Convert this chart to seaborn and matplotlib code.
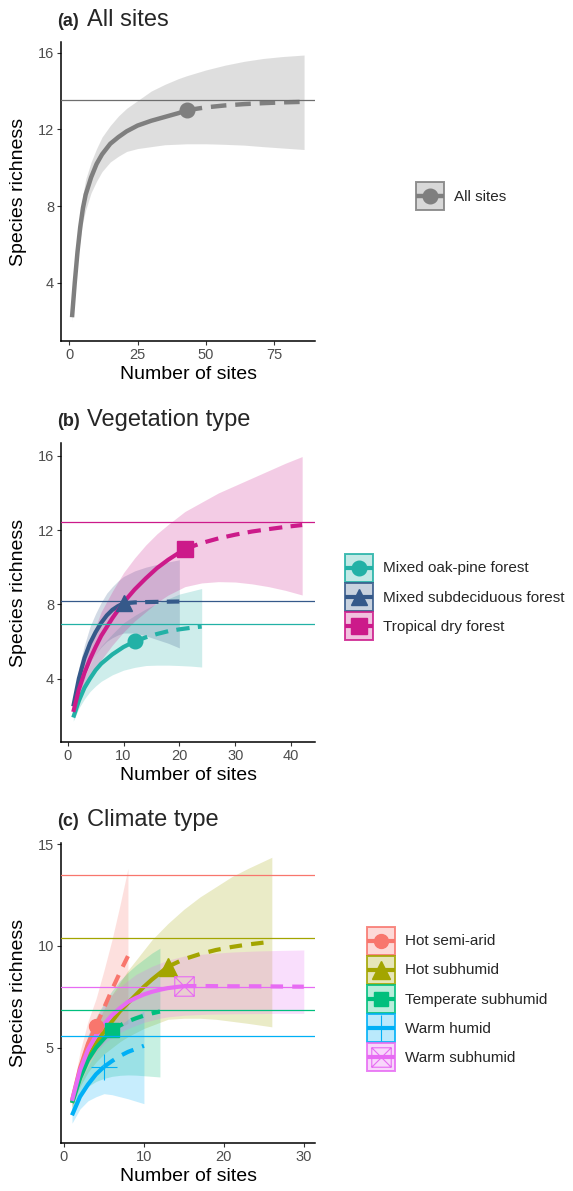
import pandas as pd
import matplotlib
matplotlib.use('Agg')
import matplotlib.pyplot as plt
import seaborn as sns
from matplotlib.path import Path
from matplotlib.patches import Patch
from matplotlib.lines import Line2D
from matplotlib.colors import to_rgba
from matplotlib.legend_handler import HandlerLine2D

# ---------------- data ----------------
# (a) all sites
all_m = [1, 2, 3, 4, 5, 6, 8, 10, 12, 15, 18, 21, 25, 30, 35, 40, 43, 50, 57, 64, 71, 78, 86]
all_qD = [2.2, 4.0, 5.6, 6.9, 7.9, 8.6, 9.5, 10.2, 10.7, 11.25, 11.6, 11.9, 12.2, 12.45, 12.65, 12.85, 13.0,
          13.15, 13.25, 13.32, 13.37, 13.41, 13.44]
all_lcl = [2.0, 3.7, 5.1, 6.3, 7.2, 7.8, 8.7, 9.3, 9.8, 10.3, 10.6, 10.85, 11.0, 11.1, 11.2, 11.23, 11.25,
           11.25, 11.22, 11.18, 11.1, 11.03, 10.95]
all_ucl = [2.4, 4.3, 6.0, 7.4, 8.6, 9.4, 10.3, 11.0, 11.6, 12.2, 12.7, 13.1, 13.5, 14.0, 14.35, 14.65, 14.8,
           15.1, 15.35, 15.55, 15.7, 15.8, 15.88]
all_nobs = 43
all_asym = 13.53

# (b) vegetation type
veg_names = ['Mixed oak-pine forest', 'Mixed subdeciduous forest', 'Tropical dry forest']
oak_m = [1, 2, 3, 4, 5, 6, 8, 10, 12, 14, 16, 18, 20, 22, 24]
oak_qD = [1.9, 2.8, 3.5, 4.0, 4.45, 4.8, 5.3, 5.7, 6.0, 6.22, 6.4, 6.55, 6.65, 6.73, 6.8]
oak_lcl = [1.7, 2.4, 2.9, 3.3, 3.6, 3.85, 4.2, 4.45, 4.6, 4.7, 4.72, 4.72, 4.7, 4.67, 4.62]
oak_ucl = [2.1, 3.2, 4.1, 4.75, 5.3, 5.75, 6.4, 7.0, 7.4, 7.75, 8.05, 8.3, 8.55, 8.7, 8.85]
sub_m = [1, 2, 3, 4, 5, 6, 7, 8, 9, 10, 12, 14, 16, 18, 20]
sub_qD = [2.5, 4.0, 5.1, 5.9, 6.5, 7.0, 7.4, 7.7, 7.9, 8.05, 8.1, 8.12, 8.13, 8.14, 8.15]
sub_lcl = [2.3, 3.4, 4.2, 4.8, 5.3, 5.7, 6.0, 6.2, 6.35, 6.45, 6.45, 6.3, 6.1, 5.9, 5.65]
sub_ucl = [2.7, 4.6, 5.8, 6.8, 7.5, 8.1, 8.6, 8.95, 9.25, 9.5, 9.8, 10.0, 10.15, 10.28, 10.4]
dry_m = [1, 2, 3, 4, 5, 6, 8, 10, 12, 14, 16, 18, 21, 24, 27, 30, 33, 36, 39, 42]
dry_qD = [2.2, 3.4, 4.3, 5.05, 5.7, 6.3, 7.25, 8.1, 8.8, 9.4, 9.95, 10.4, 10.98, 11.3, 11.55, 11.75, 11.92,
          12.05, 12.17, 12.27]
dry_lcl = [2.0, 2.9, 3.6, 4.1, 4.6, 5.0, 5.8, 6.5, 7.1, 7.6, 8.1, 8.5, 8.95, 9.15, 9.22, 9.2, 9.1, 8.95,
           8.75, 8.5]
dry_ucl = [2.4, 3.9, 5.0, 6.0, 6.8, 7.6, 8.7, 9.7, 10.5, 11.2, 11.8, 12.3, 13.0, 13.5, 14.0, 14.4, 14.8,
           15.2, 15.6, 15.96]
veg_nobs = [12, 10, 21]
veg_asym = [6.92, 8.16, 12.42]

# (c) climate type
clim_names = ['Hot semi-arid', 'Hot subhumid', 'Temperate subhumid', 'Warm humid', 'Warm subhumid']
hsa_m = [1, 2, 3, 4, 5, 6, 7, 8]
hsa_qD = [2.4, 4.0, 5.2, 6.07, 6.95, 7.85, 8.7, 9.5]
hsa_lcl = [2.1, 3.3, 4.2, 4.8, 5.3, 5.7, 6.0, 6.2]
hsa_ucl = [2.7, 4.8, 6.3, 7.4, 8.8, 10.3, 12.0, 13.8]
hsh_m = [1, 2, 3, 4, 5, 6, 7, 8, 9, 10, 11, 13, 15, 17, 19, 21, 23, 26]
hsh_qD = [2.3, 3.6, 4.5, 5.2, 5.8, 6.3, 6.8, 7.2, 7.6, 8.0, 8.35, 8.98, 9.35, 9.6, 9.8, 9.95, 10.07, 10.21]
hsh_lcl = [2.1, 3.1, 3.8, 4.3, 4.7, 5.0, 5.3, 5.55, 5.75, 5.95, 6.1, 6.4, 6.45, 6.45, 6.4, 6.3, 6.2, 6.03]
hsh_ucl = [2.5, 4.1, 5.2, 6.1, 6.9, 7.6, 8.2, 8.8, 9.3, 9.8, 10.3, 11.1, 11.8, 12.4, 12.9, 13.4, 13.8, 14.35]
tsh_m = [1, 2, 3, 4, 5, 6, 7, 8, 9, 10, 11, 12]
tsh_qD = [2.3, 3.5, 4.4, 5.0, 5.45, 5.87, 6.1, 6.3, 6.45, 6.58, 6.69, 6.78]
tsh_lcl = [2.0, 2.7, 3.1, 3.35, 3.5, 3.6, 3.65, 3.67, 3.66, 3.63, 3.6, 3.57]
tsh_ucl = [2.6, 4.3, 5.6, 6.5, 7.2, 7.8, 8.3, 8.7, 9.05, 9.35, 9.65, 9.89]
wh_m = [1, 2, 3, 4, 5, 6, 7, 8, 9, 10]
wh_qD = [1.69, 2.6, 3.2, 3.7, 4.07, 4.35, 4.6, 4.8, 4.95, 5.1]
wh_lcl = [1.3, 2.0, 2.4, 2.6, 2.75, 2.7, 2.6, 2.5, 2.38, 2.26]
wh_ucl = [2.1, 3.3, 4.1, 4.8, 5.35, 5.75, 6.1, 6.4, 6.6, 6.8]
wsh_m = [1, 2, 3, 4, 5, 6, 7, 8, 9, 10, 11, 12, 13, 15, 18, 21, 24, 27, 30]
wsh_qD = [2.4, 3.9, 4.9, 5.6, 6.15, 6.6, 6.95, 7.25, 7.45, 7.62, 7.75, 7.85, 7.93, 8.03, 8.03, 8.02, 8.02,
          8.01, 8.0]
wsh_lcl = [2.2, 3.4, 4.2, 4.8, 5.2, 5.5, 5.75, 5.95, 6.1, 6.25, 6.35, 6.45, 6.52, 6.6, 6.65, 6.67, 6.68,
           6.69, 6.69]
wsh_ucl = [2.6, 4.4, 5.6, 6.4, 7.1, 7.6, 8.0, 8.3, 8.6, 8.8, 9.0, 9.15, 9.3, 9.5, 9.62, 9.7, 9.75, 9.78, 9.8]
clim_nobs = [4, 13, 6, 5, 15]
clim_asym = [13.48, 10.38, 6.85, 5.6, 8.0]

# ---------------- styling ----------------
sns.set_style('ticks')
plt.rcParams['font.family'] = ['Liberation Sans', 'DejaVu Sans']

W, H = 573, 1191
fig = plt.figure(figsize=(W / 100, H / 100), dpi=100)


def box(left, top, right, bottom):
    return [left / W, 1 - bottom / H, (right - left) / W, (bottom - top) / H]


# square with a cross inside (ggplot shape 7)
sq_cross = Path([(-1, -1), (1, -1), (1, 1), (-1, 1), (-1, -1), (-1, -1), (1, 1), (-1, 1), (1, -1)],
                [Path.MOVETO, Path.LINETO, Path.LINETO, Path.LINETO, Path.CLOSEPOLY,
                 Path.MOVETO, Path.LINETO, Path.MOVETO, Path.LINETO])


class CenteredLine(HandlerLine2D):
    # put the legend line/marker in the middle of the key box
    def create_artists(self, legend, orig_handle, xdescent, ydescent, width, height, fontsize, trans):
        arts = super().create_artists(legend, orig_handle, xdescent, ydescent, width, height,
                                      fontsize, trans)
        for a in arts:
            a.set_ydata([height / 2 - ydescent] * len(a.get_ydata()))
        return arts


def make_df(name, m, qD, lcl, ucl, nobs):
    df = pd.DataFrame({'m': m, 'qD': qD, 'lcl': lcl, 'ucl': ucl})
    df['group'] = name
    df['nobs'] = nobs
    return df


def draw_panel(ax, dfs, styles, asyms, dash, lw=3.0, ribbon_alpha=0.22):
    handles = []
    for df, st, asym in zip(dfs, styles, asyms):
        c = st['color']
        nobs = df['nobs'].iloc[0]
        ax.fill_between(df['m'], df['lcl'], df['ucl'], color=c, alpha=ribbon_alpha, lw=0, zorder=1)
        interp = df[df['m'] <= nobs]
        extrap = df[df['m'] >= nobs]
        sns.lineplot(data=interp, x='m', y='qD', color=c, lw=lw, estimator=None, sort=False,
                     solid_capstyle='butt', ax=ax, zorder=3)
        sns.lineplot(data=extrap, x='m', y='qD', color=c, lw=lw, estimator=None, sort=False,
                     linestyle=(0, dash), dash_capstyle='butt', ax=ax, zorder=3)
        ax.axhline(asym, color=st.get('hcolor', c), lw=0.9, zorder=5)
        obs = df[df['m'] == nobs]
        mk = dict(marker=st['marker'], ms=st['ms'], color=c, ls='none',
                  mew=st.get('mew', 1.0), mfc=st.get('mfc', c), mec=c)
        ax.plot(obs['m'], obs['qD'], zorder=4, **mk)
        patch = Patch(facecolor=to_rgba(c, ribbon_alpha + 0.05), edgecolor=to_rgba(c, 0.85), lw=1.4)
        line = Line2D([], [], color=c, lw=lw, solid_capstyle='butt', **{k: v for k, v in mk.items()
                                                                        if k not in ('color', 'ls')})
        handles.append((patch, line))
    ax.spines[['top', 'right']].set_visible(False)
    for s in ('left', 'bottom'):
        ax.spines[s].set_color('black')
        ax.spines[s].set_linewidth(1.1)
    ax.tick_params(length=3, width=0.8, color='#333333', labelcolor='#4D4D4D', labelsize=10.5, pad=2)
    ax.set_xlabel('Number of sites', fontsize=14, labelpad=3, color='black')
    ax.set_ylabel('Species richness', fontsize=14, labelpad=8, color='black')
    ax.grid(False)
    return handles


def add_legend(ax, handles, labels, left, cy):
    ax.legend(handles, labels, loc='center left', bbox_to_anchor=(left / W, 1 - cy / H),
              bbox_transform=fig.transFigure, frameon=False, fontsize=11, borderpad=0,
              borderaxespad=0, handlelength=1.83, handleheight=2.44, handletextpad=0.65,
              labelspacing=0.08, numpoints=1,
              handler_map={Line2D: CenteredLine()})


def title(top_base, tag, text):
    fig.text(57 / W, 1 - top_base / H, tag, fontsize=13, fontweight='bold', va='baseline', ha='left')
    fig.text(87 / W, 1 - top_base / H, text, fontsize=17, va='baseline', ha='left')


# ---------------- (a) ----------------
ax_a = fig.add_axes(box(61, 42, 315, 341))
df_all = make_df('All sites', all_m, all_qD, all_lcl, all_ucl, all_nobs)
h = draw_panel(ax_a, [df_all], [dict(color='#7F7F7F', marker='o', ms=10.5, hcolor='#6E6E6E')],
               [all_asym], dash=(3.5, 2.0), lw=3.2, ribbon_alpha=0.25)
ax_a.set_xlim(-3.04, 90)
ax_a.set_ylim(0.96, 16.56)
ax_a.set_xticks([0, 25, 50, 75])
ax_a.set_yticks([4, 8, 12, 16])
add_legend(ax_a, h, ['All sites'], 416, 196)
title(26, '(a)', 'All sites')

# ---------------- (b) ----------------
ax_b = fig.add_axes(box(61, 443, 315, 742))
veg_dfs = [make_df(veg_names[0], oak_m, oak_qD, oak_lcl, oak_ucl, veg_nobs[0]),
           make_df(veg_names[1], sub_m, sub_qD, sub_lcl, sub_ucl, veg_nobs[1]),
           make_df(veg_names[2], dry_m, dry_qD, dry_lcl, dry_ucl, veg_nobs[2])]
veg_styles = [dict(color='#22B1A6', marker='o', ms=10.5),
              dict(color='#35598A', marker='^', ms=12),
              dict(color='#CC1A8A', marker='s', ms=11.5)]
h = draw_panel(ax_b, veg_dfs, veg_styles, veg_asym, dash=(3.2, 2.0), lw=3.0)
ax_b.set_xlim(-1.2, 44.3)
ax_b.set_ylim(0.58, 16.69)
ax_b.set_xticks([0, 10, 20, 30, 40])
ax_b.set_yticks([4, 8, 12, 16])
add_legend(ax_b, h, veg_names, 345, 597)
title(426, '(b)', 'Vegetation type')

# ---------------- (c) ----------------
ax_c = fig.add_axes(box(61, 843, 315, 1143))
clim_dfs = [make_df(clim_names[0], hsa_m, hsa_qD, hsa_lcl, hsa_ucl, clim_nobs[0]),
            make_df(clim_names[1], hsh_m, hsh_qD, hsh_lcl, hsh_ucl, clim_nobs[1]),
            make_df(clim_names[2], tsh_m, tsh_qD, tsh_lcl, tsh_ucl, clim_nobs[2]),
            make_df(clim_names[3], wh_m, wh_qD, wh_lcl, wh_ucl, clim_nobs[3]),
            make_df(clim_names[4], wsh_m, wsh_qD, wsh_lcl, wsh_ucl, clim_nobs[4])]
clim_styles = [dict(color='#F8766D', marker='o', ms=10),
               dict(color='#A3A500', marker='^', ms=13),
               dict(color='#00BF7D', marker='s', ms=10),
               dict(color='#00B0F6', marker='+', ms=19, mew=0.8),
               dict(color='#E76BF3', marker=sq_cross, ms=14, mew=0.8, mfc='none')]
h = draw_panel(ax_c, clim_dfs, clim_styles, clim_asym, dash=(3.0, 2.2), lw=3.0)
ax_c.set_xlim(-0.375, 31.4)
ax_c.set_ylim(0.33, 15.05)
ax_c.set_xticks([0, 10, 20, 30])
ax_c.set_yticks([5, 10, 15])
add_legend(ax_c, h, clim_names, 367, 999)
title(826, '(c)', 'Climate type')

fig.savefig('out.png', dpi=100)
